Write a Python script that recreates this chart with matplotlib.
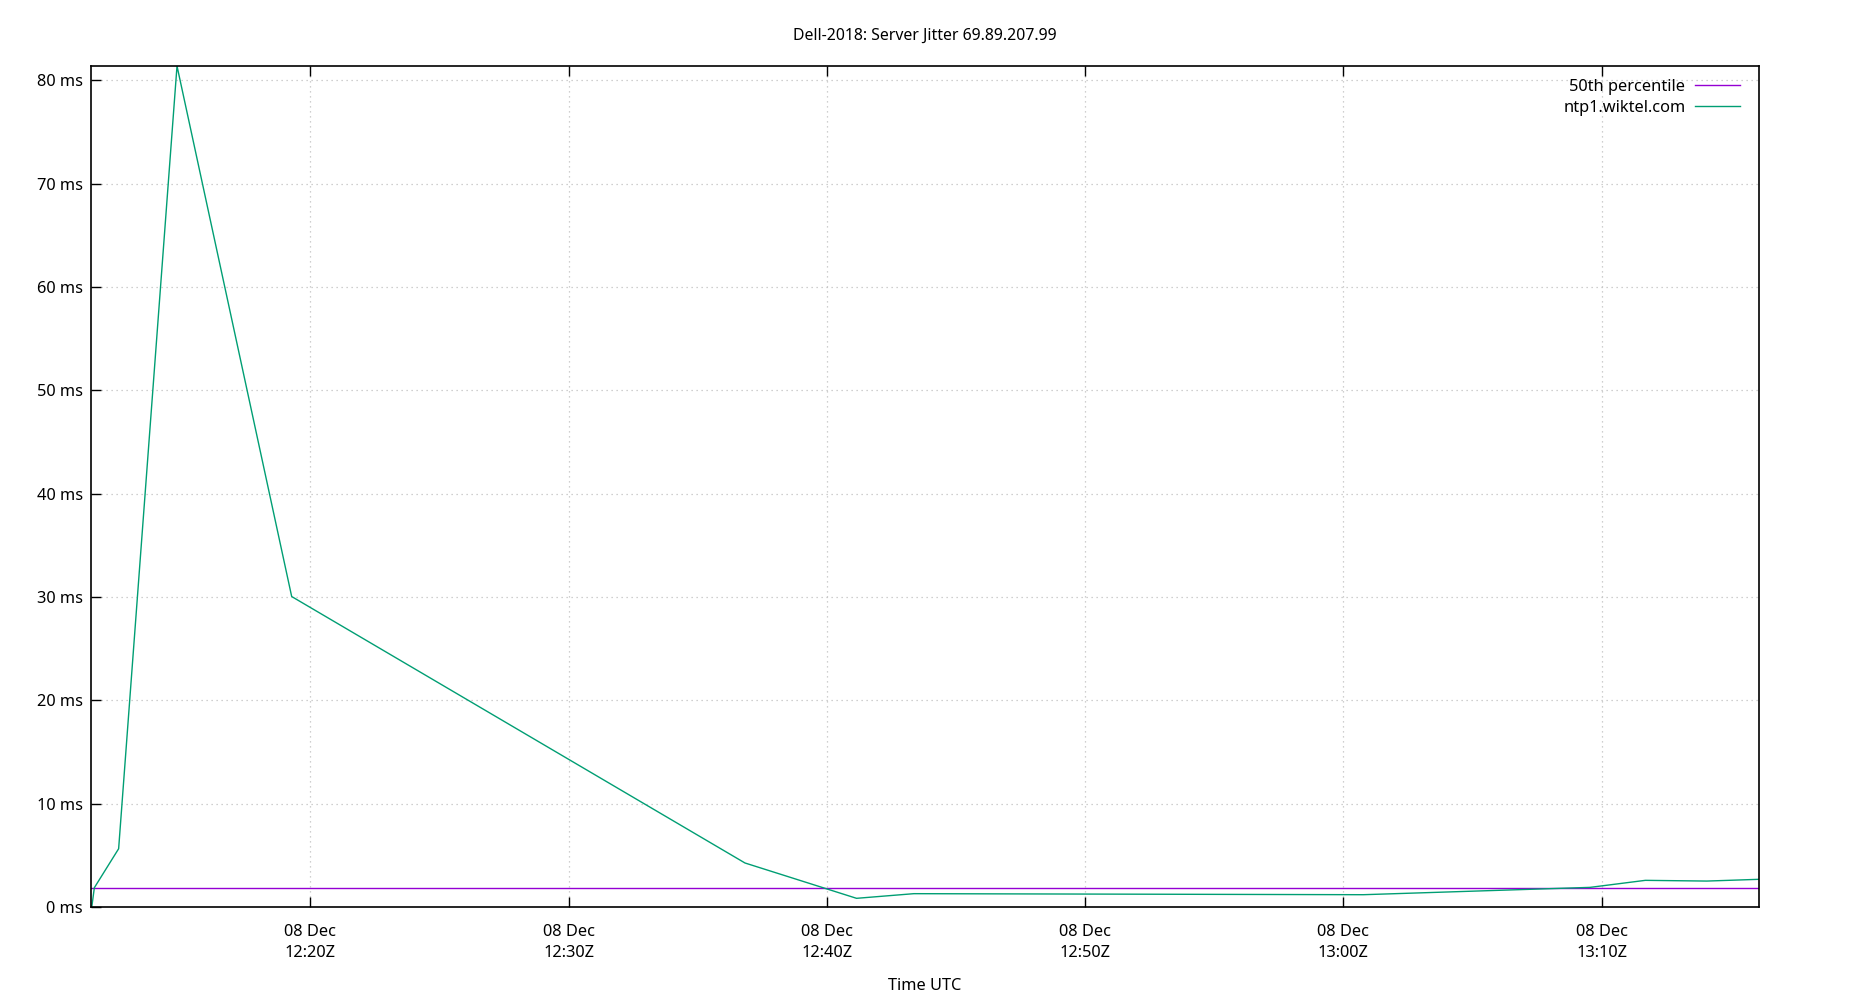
import datetime
import matplotlib
matplotlib.use('Agg')
from matplotlib import pyplot as plt
import matplotlib.dates as mdates

plt.rcParams['font.family'] = ['Noto Sans', 'DejaVu Sans']

# minutes after 12:00Z, jitter in ms
minutes = [11.54, 11.64, 12.58, 14.84, 19.28, 36.83, 41.15, 43.37, 60.77, 69.55, 71.69, 74.07, 76.09]
jitter_ms = [0.0, 1.87, 5.64, 81.4, 30.05, 4.26, 0.84, 1.29, 1.19, 1.90, 2.58, 2.51, 2.68]
median_ms = 1.81

t0 = datetime.datetime(2018, 12, 8, 12, 0)
times = [t0 + datetime.timedelta(minutes=m) for m in minutes]
x_start = t0 + datetime.timedelta(minutes=11.51)
x_end = t0 + datetime.timedelta(minutes=76.09)

fig = plt.figure(figsize=(18.5, 10), dpi=100)
ax = fig.add_axes([91/1850, 1 - 907/1000, (1759-91)/1850, (907-66)/1000])

ax.plot([x_start, x_end], [median_ms, median_ms], color='#9400d3', lw=1.0, label='50th percentile')
ax.plot(times, jitter_ms, color='#009e73', lw=1.0, label='ntp1.wiktel.com')

ax.set_xlim(x_start, x_end)
ax.set_ylim(0, max(jitter_ms))

ax.set_yticks(range(0, 90, 10))
ax.set_yticklabels(['%d ms' % v for v in range(0, 90, 10)])
ax.xaxis.set_major_locator(mdates.MinuteLocator(byminute=[0, 10, 20, 30, 40, 50]))
ax.xaxis.set_major_formatter(mdates.DateFormatter('%d %b\n%H:%MZ'))

ax.tick_params(axis='x', direction='in', top=True, bottom=True, length=7, width=1, labelsize=11.8, pad=12)
ax.tick_params(axis='y', direction='in', left=True, right=False, length=7, width=1, labelsize=11.8, pad=6)
for lbl in ax.get_xticklabels():
    lbl.set_horizontalalignment('center')
    lbl.set_linespacing(1.45)
for s in ax.spines.values():
    s.set_linewidth(1.2)

ax.grid(True, color='#c0c0c0', linestyle=(0, (1, 3)), linewidth=0.9)

ax.set_title('Dell-2018: Server Jitter 69.89.207.99', fontsize=11.4, pad=19)
ax.set_xlabel('Time UTC', fontsize=11.8, labelpad=12)

ax.legend(loc='upper right', bbox_to_anchor=(0.9962, 1.0), frameon=False,
          markerfirst=False, fontsize=11.8, handlelength=2.7, handletextpad=0.6,
          labelspacing=0.3, borderaxespad=0.4)

fig.savefig('out.png', dpi=100)
